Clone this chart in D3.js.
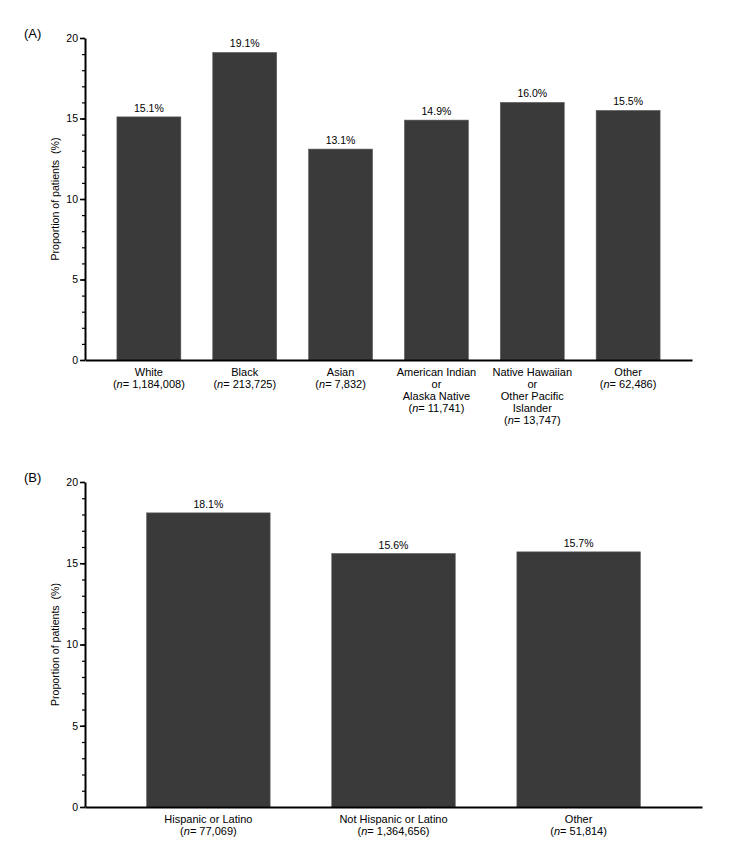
<!DOCTYPE html>
<html>
<head>
<meta charset="utf-8">
<script src="https://cdn.jsdelivr.net/npm/d3@7"></script>
<style>
  body { margin: 0; background: #fff; }
  svg text { font-family: "Liberation Sans", Arial, sans-serif; fill: #000; }
</style>
</head>
<body>
<svg id="chart" width="750" height="859"></svg>
<script>
// panel A: race
const raceLabels = [
  ['White'], ['Black'], ['Asian'],
  ['American Indian', 'or', 'Alaska Native'],
  ['Native Hawaiian', 'or', 'Other Pacific', 'Islander'],
  ['Other']
]
const raceN = ['1,184,008', '213,725', '7,832', '11,741', '13,747', '62,486']
const raceValues = [15.1, 19.1, 13.1, 14.9, 16.0, 15.5]

// panel B: ethnicity
const ethLabels = [['Hispanic or Latino'], ['Not Hispanic or Latino'], ['Other']]
const ethN = ['77,069', '1,364,656', '51,814']
const ethValues = [18.1, 15.6, 15.7]

const majorTicks = [0, 5, 10, 15, 20]
const minorTicks = d3.range(0, 21, 1)
const yTitle = 'Proportion of patients\u00a0\u00a0(%)'

const $svg = d3.select('#chart')

function drawPanel(tag, labels, nList, values, box) {
  const $g = $svg.append('g')

  const x = d3.scaleBand()
    .domain(labels.map((d, i) => i))
    .range([box.left, box.right])
    .paddingInner(0.333)
    .paddingOuter(0.333)

  const y = d3.scaleLinear()
    .domain([0, 20])
    .range([box.bottom, box.top])

  // bars
  $g.selectAll('.bar')
    .data(values)
    .enter()
    .append('rect')
    .attr('class', 'bar')
    .attr('x', (d, i) => x(i))
    .attr('width', x.bandwidth())
    .attr('y', d => y(d))
    .attr('height', d => y(0) - y(d))
    .attr('fill', '#3a3a3a')
    .attr('stroke', '#5a5a5a')
    .attr('stroke-width', 0.6)

  // value labels
  $g.selectAll('.val')
    .data(values)
    .enter()
    .append('text')
    .attr('x', (d, i) => x(i) + x.bandwidth() / 2)
    .attr('y', d => y(d) - 5)
    .attr('text-anchor', 'middle')
    .style('font-size', '10.5px')
    .text(d => d.toFixed(1) + '%')

  // minor ticks
  $g.append('g')
    .attr('transform', `translate(${box.left},0)`)
    .call(d3.axisLeft(y).tickValues(minorTicks).tickSize(3).tickFormat('').tickSizeOuter(0))
    .call(a => a.select('.domain').remove())
    .call(a => a.selectAll('line').attr('stroke-width', 1.2))

  // major ticks + axis line
  const $yAxis = $g.append('g')
    .attr('transform', `translate(${box.left},0)`)
    .call(d3.axisLeft(y).tickValues(majorTicks).tickSize(5).tickSizeOuter(0).tickPadding(2))
  $yAxis.select('.domain').attr('stroke-width', 2)
  $yAxis.selectAll('line').attr('stroke-width', 1.6)
  $yAxis.selectAll('text')
    .style('font-family', '"Liberation Sans", Arial, sans-serif')
    .style('font-size', '10.5px')

  // x axis line
  $g.append('g')
    .attr('transform', `translate(0,${box.bottom})`)
    .call(d3.axisBottom(x).tickSize(0).tickFormat('').tickSizeOuter(0))
    .select('.domain')
    .attr('stroke-width', 2)

  // category labels
  labels.forEach((lines, i) => {
    const cx = x(i) + x.bandwidth() / 2
    const $t = $g.append('text')
      .attr('text-anchor', 'middle')
      .style('font-size', '11px')
    lines.forEach((line, j) => {
      $t.append('tspan')
        .attr('x', cx)
        .attr('y', box.bottom + 16 + j * 12)
        .text(line)
    })
    const $n = $t.append('tspan')
      .attr('x', cx)
      .attr('y', box.bottom + 16 + lines.length * 12)
      .text('(')
    $t.append('tspan').style('font-style', 'italic').text('n')
    $t.append('tspan').text('= ' + nList[i] + ')')
  })

  // y title
  $g.append('text')
    .attr('transform', `translate(${box.left - 26},${(box.top + box.bottom) / 2}) rotate(-90)`)
    .attr('text-anchor', 'middle')
    .style('font-size', '10.6px')
    .text(yTitle)

  // panel tag
  $g.append('text')
    .attr('x', 24)
    .attr('y', box.top + 0)
    .style('font-size', '13px')
    .text(tag)
}

drawPanel('(A)', raceLabels, raceN, raceValues, { left: 85, right: 692, top: 38, bottom: 360 })
drawPanel('(B)', ethLabels, ethN, ethValues, { left: 85, right: 702, top: 482, bottom: 807 })
</script>
</body>
</html>
